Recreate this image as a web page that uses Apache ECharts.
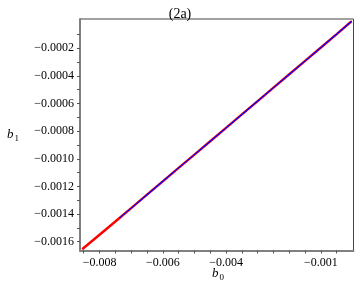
<!DOCTYPE html>
<html>
<head>
<meta charset="utf-8">
<script src="https://cdn.jsdelivr.net/npm/echarts@6/dist/echarts.min.js"></script>
<style>
html,body{margin:0;padding:0;background:#fff;}
#c{width:360px;height:287px;}
</style>
</head>
<body>
<div id="c"></div>
<script>
// ---- data ----
const redX = [-0.00855, -0.0080, -0.0075, -0.0070, -0.0065, -0.0060, -0.0055, -0.0050, -0.0045, -0.0040, -0.0035, -0.0030, -0.0025, -0.0020, -0.0015, -0.0010, -0.0005, -0.00004];
const redY = [-0.001655, -0.001550, -0.001454, -0.001357, -0.001260, -0.001163, -0.001066, -0.000970, -0.000873, -0.000776, -0.000679, -0.000582, -0.000485, -0.000388, -0.000291, -0.000194, -0.000097, -0.000006];
const blueX = [-0.00737, -0.0070, -0.0065, -0.0060, -0.0055, -0.0050, -0.0045, -0.0040, -0.0035, -0.0030, -0.0025, -0.0020, -0.0015, -0.0010, -0.0005, -0.00002];
const blueY = [-0.001428, -0.001357, -0.001260, -0.001163, -0.001066, -0.000970, -0.000873, -0.000776, -0.000679, -0.000582, -0.000485, -0.000388, -0.000291, -0.000194, -0.000097, -0.000002];
const xTickValues = [-0.0085, -0.008, -0.0075, -0.007, -0.0065, -0.006, -0.0055, -0.005, -0.0045, -0.004, -0.0035, -0.003, -0.0025, -0.002, -0.0015, -0.001, -0.0005];
const xLabelValues = [-0.008, -0.006, -0.004, -0.001];
const yTickValues = [-0.0016, -0.0015, -0.0014, -0.0013, -0.0012, -0.0011, -0.001, -0.0009, -0.0008, -0.0007, -0.0006, -0.0005, -0.0004, -0.0003, -0.0002, -0.0001];
const yLabelValues = [-0.0016, -0.0014, -0.0012, -0.001, -0.0008, -0.0006, -0.0004, -0.0002];
const titleText = '(2a)';

const serif = '"Liberation Serif", "DejaVu Serif", serif';
function fmt(v, d) {
  const s = Math.abs(v).toFixed(d);
  return (v < 0 ? '\u2212' : '') + s;
}
const chart = echarts.init(document.getElementById('c'), null, {renderer: 'canvas'});
chart.setOption({
  animation: false,
  backgroundColor: '#fff',
  title: {
    text: titleText, left: 'center', top: 2,
    textStyle: {fontFamily: serif, fontSize: 14, fontWeight: 'normal', color: '#000'}
  },
  grid: {left: 80, right: 6.5, top: 19, bottom: 36.5, show: true, borderColor: '#444', borderWidth: 1, containLabel: false},
  xAxis: {
    type: 'value', min: -0.008618, max: 0.00003,
    axisLine: {show: true, onZero: false, lineStyle: {color: '#808080', width: 2}},
    axisTick: {show: true, length: 3, customValues: xTickValues, lineStyle: {color: '#555'}},
    axisLabel: {customValues: xLabelValues, margin: 6, fontFamily: serif, fontSize: 12, color: '#000',
      formatter: v => fmt(v, 3)},
    splitLine: {show: false}
  },
  yAxis: {
    type: 'value', min: -0.001664, max: 0.0000121,
    axisLine: {show: true, onZero: false, lineStyle: {color: '#808080', width: 2}},
    axisTick: {show: true, length: 3, customValues: yTickValues, lineStyle: {color: '#555'}},
    axisLabel: {customValues: yLabelValues, margin: 6, fontFamily: serif, fontSize: 12, color: '#000',
      formatter: v => fmt(v, 4)},
    splitLine: {show: false}
  },
  graphic: [
    {type: 'text', left: 7, top: 128, style: {
      text: '{b|b}{s|1}', rich: {
        b: {fontFamily: serif, fontStyle: 'italic', fontSize: 13, fill: '#000'},
        s: {fontFamily: serif, fontSize: 9, fill: '#000', padding: [8, 0, 0, 1]}
      }}},
    {type: 'text', left: 212, top: 267, style: {
      text: '{b|b}{s|0}', rich: {
        b: {fontFamily: serif, fontStyle: 'italic', fontSize: 13, fill: '#000'},
        s: {fontFamily: serif, fontSize: 9, fill: '#000', padding: [8, 0, 0, 1]}
      }}}
  ],
  series: [
    {type: 'line', data: redX.map((x, i) => [x, redY[i]]), showSymbol: false, symbol: 'none',
      lineStyle: {color: '#ff0000', width: 2.4}, z: 2},
    {type: 'line', data: blueX.map((x, i) => [x, blueY[i]]), showSymbol: false, symbol: 'none',
      lineStyle: {color: '#0000ff', width: 1.2}, z: 3}
  ]
});
</script>
</body>
</html>
